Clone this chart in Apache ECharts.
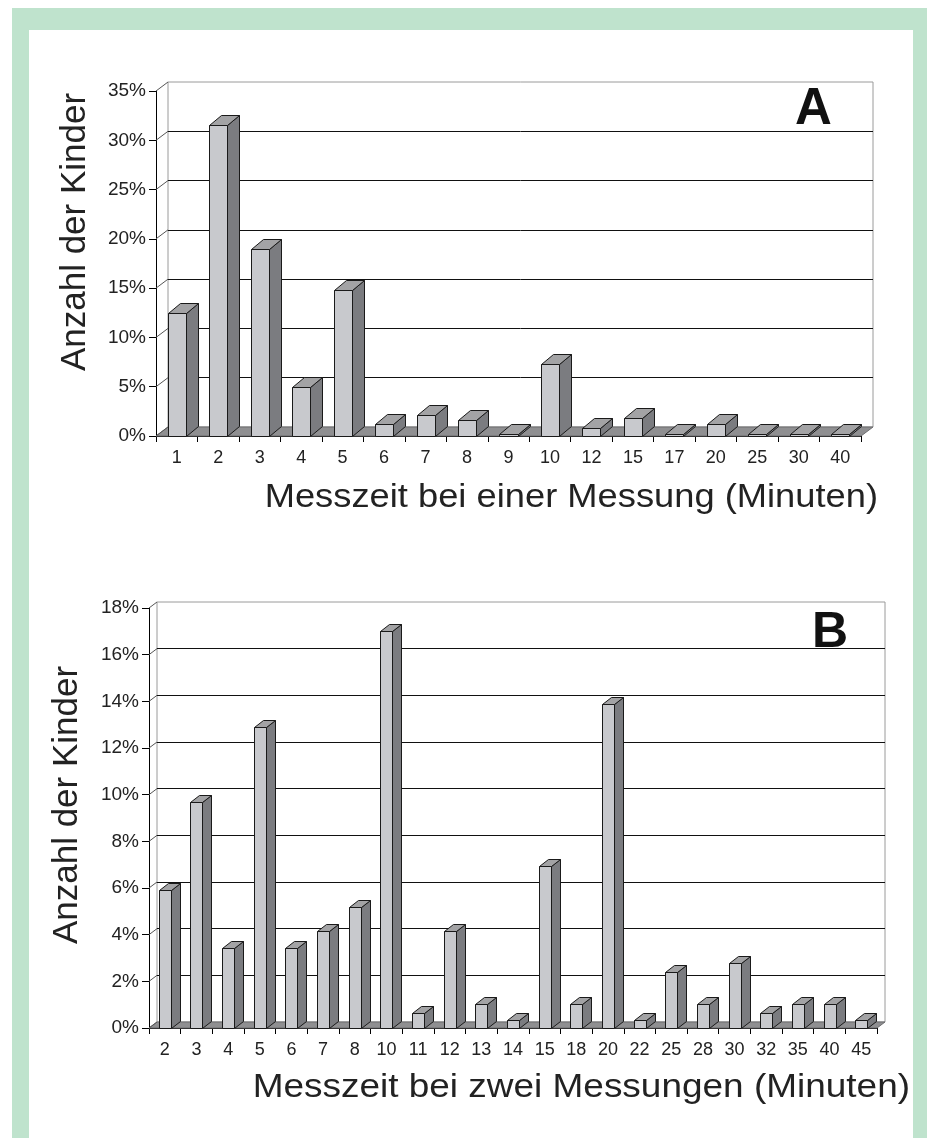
<!DOCTYPE html>
<html><head><meta charset="utf-8">
<script src="https://cdn.jsdelivr.net/npm/echarts@6/dist/echarts.min.js"></script>
<style>html,body{margin:0;padding:0;background:#fff}#c{width:933px;height:1138px}</style>
</head><body><div id="c"></div>
<script>
const catsA = ['1','2','3','4','5','6','7','8','9','10','12','15','17','20','25','30','40'];
const valsA = [12.5,31.6,19.0,5.0,14.8,1.2,2.1,1.6,0.2,7.3,0.8,1.8,0.2,1.2,0.2,0.2,0.2];
const ticksA = [0,5,10,15,20,25,30,35];

const catsB = ['2','3','4','5','6','7','8','10','11','12','13','14','15','18','20','22','25','28','30','32','35','40','45'];
const valsB = [5.9,9.7,3.45,12.9,3.45,4.15,5.2,17.0,0.65,4.15,1.05,0.35,6.95,1.05,13.9,0.35,2.4,1.05,2.8,0.65,1.05,1.05,0.35];
const ticksB = [0,2,4,6,8,10,12,14,16,18];

const yNameText = 'Anzahl der Kinder';
const xNameA = 'Messzeit bei einer Messung (Minuten)';
const xNameB = 'Messzeit bei zwei Messungen (Minuten)';

const FONT = '"Liberation Sans", Arial, Helvetica, sans-serif';
const INK = '#1a1a1a';

function barRender(dx, dy, ratio){
  return function(params, api){
    const i = api.value(0), v = api.value(1);
    const top = api.coord([i, v]);
    const base = api.coord([i, 0]);
    const bw = api.size([1, 0])[0];
    const w = bw * ratio;
    const x0 = Math.round(top[0] - w/2) + 0.5, x1 = Math.round(top[0] + w/2) + 0.5;
    const yt = Math.round(top[1]) + 0.5, yb = Math.round(base[1]) + 0.5;
    return {type:'group', children:[
      {type:'polygon', shape:{points:[[x1,yt],[x1+dx,yt-dy],[x1+dx,yb-dy],[x1,yb]]},
        style:{fill:'#7b7c80', stroke:INK, lineWidth:1}},
      {type:'polygon', shape:{points:[[x0,yt],[x0+dx,yt-dy],[x1+dx,yt-dy],[x1,yt]]},
        style:{fill:'#a3a3a5', stroke:INK, lineWidth:1}},
      {type:'rect', shape:{x:x0, y:yt, width:x1-x0, height:yb-yt},
        style:{fill:'#c8c9cd', stroke:INK, lineWidth:1}}
    ]};
  };
}

function frameRender(dx, dy, ticks){
  return function(params, api){
    const cs = params.coordSys;
    const L = cs.x, R = cs.x + cs.width, B = cs.y + cs.height;
    const children = [
      {type:'polygon', shape:{points:[[L,B],[R,B],[R+dx,B-dy],[L+dx,B-dy]]},
        style:{fill:'#8f8f91', stroke:'#6d6d6f', lineWidth:1}}
    ];
    ticks.forEach(function(t){
      const p = api.coord([0, t]);
      children.push({type:'line', shape:{x1:L, y1:p[1], x2:L+dx, y2:p[1]-dy},
        style:{stroke:'#555', lineWidth:1}});
    });
    return {type:'group', children: children};
  };
}

const chart = echarts.init(document.getElementById('c'), null, {renderer:'canvas'});

function frontX(grid, cats){
  return {type:'category', gridIndex:grid, data:cats, boundaryGap:true,
    axisLine:{show:true, lineStyle:{color:'#000', width:1}},
    axisTick:{show:true, length:6, interval:0, alignWithLabel:false, lineStyle:{color:'#000'}},
    axisLabel:{interval:0, fontSize:18, margin:13, color:'#222', fontFamily:FONT},
    splitLine:{show:false}};
}
function backX(grid, cats){
  return {type:'category', gridIndex:grid, data:cats, show:false};
}
function frontY(grid, max, step, margin){
  return {type:'value', gridIndex:grid, min:0, max:max, interval:step,
    axisLine:{show:true, lineStyle:{color:'#000', width:1}},
    axisTick:{show:true, length:7, lineStyle:{color:'#000'}},
    axisLabel:{formatter:'{value}%', fontSize:19, margin:margin, color:'#222', fontFamily:FONT},
    splitLine:{show:false}};
}
function backY(grid, max, step){
  return {type:'value', gridIndex:grid, min:0, max:max, interval:step,
    axisLine:{show:false}, axisTick:{show:false}, axisLabel:{show:false},
    splitLine:{show:true, showMinLine:false, showMaxLine:false, lineStyle:{color:'#111', width:1}}};
}

const dA = [12, 9], dB = [8, 6];

const option = {
  animation:false,
  backgroundColor:'#ffffff',
  grid:[
    {left:156, top:91, width:705, height:345},
    {left:156+dA[0], top:91-dA[1], width:705, height:345, show:true, borderColor:'#9a9a9a', borderWidth:1, backgroundColor:'rgba(0,0,0,0)'},
    {left:149, top:608, width:728, height:420},
    {left:149+dB[0], top:608-dB[1], width:728, height:420, show:true, borderColor:'#9a9a9a', borderWidth:1, backgroundColor:'rgba(0,0,0,0)'}
  ],
  xAxis:[frontX(0, catsA), backX(1, catsA), frontX(2, catsB), backX(3, catsB)],
  yAxis:[frontY(0, 35, 5, 10), backY(1, 35, 5), frontY(2, 18, 2, 10), backY(3, 18, 2)],
  series:[
    {type:'custom', name:'floorA', xAxisIndex:0, yAxisIndex:0, z:2, data:[[0,0]], renderItem:frameRender(dA[0], dA[1], ticksA)},
    {type:'custom', name:'A', xAxisIndex:0, yAxisIndex:0, z:3, data:valsA.map(function(v,i){return [i,v];}), renderItem:barRender(dA[0], dA[1]+1, 0.435)},
    {type:'custom', name:'floorB', xAxisIndex:2, yAxisIndex:2, z:2, data:[[0,0]], renderItem:frameRender(dB[0], dB[1], ticksB)},
    {type:'custom', name:'B', xAxisIndex:2, yAxisIndex:2, z:3, data:valsB.map(function(v,i){return [i,v];}), renderItem:barRender(dB[0]+1, dB[1]+1, 0.38)}
  ],
  graphic:[
    {type:'rect', z:100, shape:{x:12, y:8, width:915, height:22}, style:{fill:'#bfe3cd'}},
    {type:'rect', z:100, shape:{x:12, y:8, width:17, height:1130}, style:{fill:'#bfe3cd'}},
    {type:'rect', z:100, shape:{x:913, y:8, width:14, height:1130}, style:{fill:'#bfe3cd'}},
    {type:'text', z:100, x:75, y:232, rotation:Math.PI/2,
      style:{text:yNameText, font:'35px '+FONT, fill:'#222', align:'center', verticalAlign:'middle', textAlign:'center', textVerticalAlign:'middle'}},
    {type:'text', z:100, x:67, y:805, rotation:Math.PI/2,
      style:{text:yNameText, font:'35px '+FONT, fill:'#222', align:'center', verticalAlign:'middle', textAlign:'center', textVerticalAlign:'middle'}},
    {type:'text', z:100, x:878, y:497.5, scaleX:1.10,
      style:{text:xNameA, font:'33px '+FONT, fill:'#222', align:'right', verticalAlign:'middle', textAlign:'right', textVerticalAlign:'middle'}},
    {type:'text', z:100, x:910, y:1088, scaleX:1.12,
      style:{text:xNameB, font:'33px '+FONT, fill:'#222', align:'right', verticalAlign:'middle', textAlign:'right', textVerticalAlign:'middle'}},
    {type:'text', z:100, x:813.5, y:109.5,
      style:{text:'A', font:'bold 51px '+FONT, fill:'#111', align:'center', verticalAlign:'middle', textAlign:'center', textVerticalAlign:'middle'}},
    {type:'text', z:100, x:830, y:633,
      style:{text:'B', font:'bold 50px '+FONT, fill:'#111', align:'center', verticalAlign:'middle', textAlign:'center', textVerticalAlign:'middle'}}
  ]
};
chart.setOption(option);
</script>
</body></html>
